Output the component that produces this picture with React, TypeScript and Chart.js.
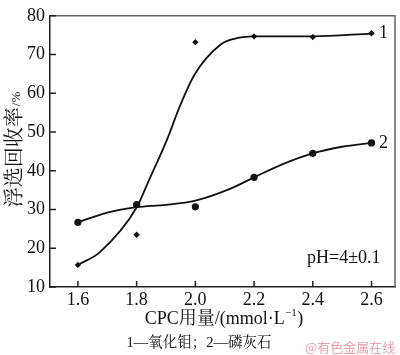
import { useEffect, useRef } from 'react';
import { Chart, registerables } from 'chart.js';
Chart.register(...registerables);

// CPC dosage (mmol/L)
const xValues = [1.6, 1.8, 2.0, 2.2, 2.4, 2.6];
// measured recovery, %
const moPoints = [15.7, 23.5, 73.2, 74.7, 74.5, 75.5]; // 1 — 氧化钼
const apPoints = [26.7, 31.3, 30.7, 38.3, 44.5, 47.2]; // 2 — 磷灰石
// fitted curves
const moCurveX = [1.6, 1.675, 1.8, 1.837, 1.905, 1.947, 1.998, 2.083, 2.129, 2.2, 2.4, 2.6];
const moCurveY = [15.7, 19.0, 30.5, 36.7, 48.3, 56.6, 64.9, 72.4, 74.0, 74.7, 74.7, 75.4];
const apCurveX = [1.6, 1.7, 1.8, 1.9, 2.0, 2.12, 2.2, 2.3, 2.4, 2.5, 2.6];
const apCurveY = [26.7, 29.2, 30.6, 31.2, 32.3, 35.4, 38.3, 41.8, 44.5, 46.2, 47.2];

const xTicks = [1.6, 1.8, 2.0, 2.2, 2.4, 2.6];
const yTicks = [10, 20, 30, 40, 50, 60, 70, 80];

const seriesLabels = ['1', '2'];
const xTitleMain = 'CPC用量/(mmol·L';
const xTitleSup = '−1';
const xTitleEnd = ')';
const yTitleMain = '浮选回收率';
const yTitleUnit = '/%';
const caption = '1—氧化钼；2—磷灰石';
const noteText = 'pH=4±0.1';
const watermark = '@有色金属在线';

const SERIF = "'Liberation Serif', 'Noto Serif CJK SC', 'Noto Sans CJK SC', serif";

const decorPlugin = {
  id: 'decor',
  afterDraw(chart: any) {
    const { ctx, chartArea: ca, scales } = chart;
    const xs = scales.x;
    const ys = scales.y;
    ctx.save();
    // frame top/right
    ctx.strokeStyle = '#666';
    ctx.lineWidth = 1.5;
    ctx.beginPath();
    ctx.moveTo(ca.left, ca.top);
    ctx.lineTo(ca.right, ca.top);
    ctx.lineTo(ca.right, ca.bottom);
    ctx.stroke();
    // inward ticks
    ctx.strokeStyle = '#222';
    ctx.lineWidth = 1.5;
    ctx.beginPath();
    xTicks.forEach((v) => {
      const px = xs.getPixelForValue(v);
      ctx.moveTo(px, ca.bottom);
      ctx.lineTo(px, ca.bottom - 6);
    });
    yTicks.forEach((v) => {
      const py = ys.getPixelForValue(v);
      ctx.moveTo(ca.left, py);
      ctx.lineTo(ca.left + 6, py);
    });
    ctx.stroke();

    ctx.fillStyle = '#111';
    ctx.textBaseline = 'middle';
    // series labels
    ctx.font = `18px ${SERIF}`;
    ctx.textAlign = 'center';
    const lastX = xs.getPixelForValue(xValues[xValues.length - 1]) + 12;
    ctx.fillText(seriesLabels[0], lastX, ys.getPixelForValue(moPoints[moPoints.length - 1]));
    ctx.fillText(seriesLabels[1], lastX, ys.getPixelForValue(apPoints[apPoints.length - 1]));

    // pH note
    ctx.textAlign = 'left';
    ctx.font = `18px ${SERIF}`;
    ctx.fillText(noteText, 307, 258);

    // x title
    ctx.textBaseline = 'alphabetic';
    ctx.font = `18px ${SERIF}`;
    const w1 = ctx.measureText(xTitleMain).width;
    const w3 = ctx.measureText(xTitleEnd).width;
    ctx.font = `11px ${SERIF}`;
    const w2 = ctx.measureText(xTitleSup).width;
    const total = w1 + w2 + w3 + 1;
    let sx = 224 - total / 2;
    const base = 324;
    ctx.font = `18px ${SERIF}`;
    ctx.fillText(xTitleMain, sx, base);
    sx += w1 + 0.5;
    ctx.font = `11px ${SERIF}`;
    ctx.fillText(xTitleSup, sx, base - 8);
    sx += w2 + 0.5;
    ctx.font = `18px ${SERIF}`;
    ctx.fillText(xTitleEnd, sx, base);

    // y title (rotated)
    ctx.save();
    ctx.translate(16, 150);
    ctx.rotate(-Math.PI / 2);
    ctx.font = `20px ${SERIF}`;
    const m1 = ctx.measureText(yTitleMain).width;
    ctx.font = `13px ${SERIF}`;
    const m2 = ctx.measureText(yTitleUnit).width;
    let ty = -(m1 + m2) / 2;
    ctx.textBaseline = 'middle';
    ctx.font = `20px ${SERIF}`;
    ctx.fillText(yTitleMain, ty, 0);
    ty += m1 + 1;
    ctx.font = `13px ${SERIF}`;
    ctx.fillText(yTitleUnit, ty, 1);
    ctx.restore();

    // caption
    ctx.textAlign = 'center';
    ctx.textBaseline = 'middle';
    ctx.font = `14.5px ${SERIF}`;
    ctx.fillText(caption, 199, 343);

    // watermark
    ctx.textAlign = 'left';
    ctx.fillStyle = '#eaa3ac';
    ctx.font = `13px 'Noto Sans CJK SC', sans-serif`;
    ctx.fillText(watermark, 305, 347);
    ctx.restore();
  },
};

export default function App() {
  const ref = useRef<HTMLCanvasElement | null>(null);
  useEffect(() => {
    if (!ref.current) return;
    const tickFont = { family: SERIF, size: 18 };
    const chart = new Chart(ref.current, {
      type: 'line',
      data: {
        datasets: [
          {
            data: moCurveX.map((x, i) => ({ x, y: moCurveY[i] })),
            borderColor: '#111',
            borderWidth: 1.8,
            pointRadius: 0,
            cubicInterpolationMode: 'monotone',
            fill: false,
          },
          {
            data: apCurveX.map((x, i) => ({ x, y: apCurveY[i] })),
            borderColor: '#111',
            borderWidth: 1.8,
            pointRadius: 0,
            cubicInterpolationMode: 'monotone',
            fill: false,
          },
          {
            data: xValues.map((x, i) => ({ x, y: moPoints[i] })),
            showLine: false,
            pointStyle: 'rectRot',
            pointRadius: 3.2,
            pointBackgroundColor: '#111',
            pointBorderColor: '#111',
            pointBorderWidth: 0,
          },
          {
            data: xValues.map((x, i) => ({ x, y: apPoints[i] })),
            showLine: false,
            pointStyle: 'circle',
            pointRadius: 3.6,
            pointBackgroundColor: '#111',
            pointBorderColor: '#111',
            pointBorderWidth: 0,
          },
        ],
      } as any,
      options: {
        animation: false,
        responsive: true,
        maintainAspectRatio: false,
        layout: { padding: { left: 0, right: 5, top: 6, bottom: 0 } },
        plugins: { legend: { display: false }, tooltip: { enabled: false } },
        scales: {
          x: {
            type: 'linear',
            min: 1.505,
            max: 2.68,
            afterBuildTicks: (s: any) => {
              s.ticks = xTicks.map((v) => ({ value: v }));
            },
            afterFit: (s: any) => {
              s.height = 68;
            },
            ticks: {
              font: tickFont,
              color: '#111',
              padding: 2,
              maxRotation: 0,
              autoSkip: false,
              callback: (v: any) => Number(v).toFixed(1),
            },
            grid: { display: false, drawTicks: false },
            border: { display: true, color: '#222', width: 1.5 },
          },
          y: {
            type: 'linear',
            min: 10,
            max: 80,
            afterBuildTicks: (s: any) => {
              s.ticks = yTicks.map((v) => ({ value: v }));
            },
            afterFit: (s: any) => {
              s.width = 50;
            },
            ticks: {
              font: tickFont,
              color: '#111',
              padding: 5,
              autoSkip: false,
              callback: (v: any) => String(v),
            },
            grid: { display: false, drawTicks: false },
            border: { display: true, color: '#222', width: 1.5 },
          },
        },
      },
      plugins: [decorPlugin],
    } as any);
    return () => chart.destroy();
  }, []);
  return (
    <div style={{ position: 'absolute', left: 0, top: 0, width: 400, height: 355, background: '#fff' }}>
      <canvas ref={ref} />
    </div>
  );
}
